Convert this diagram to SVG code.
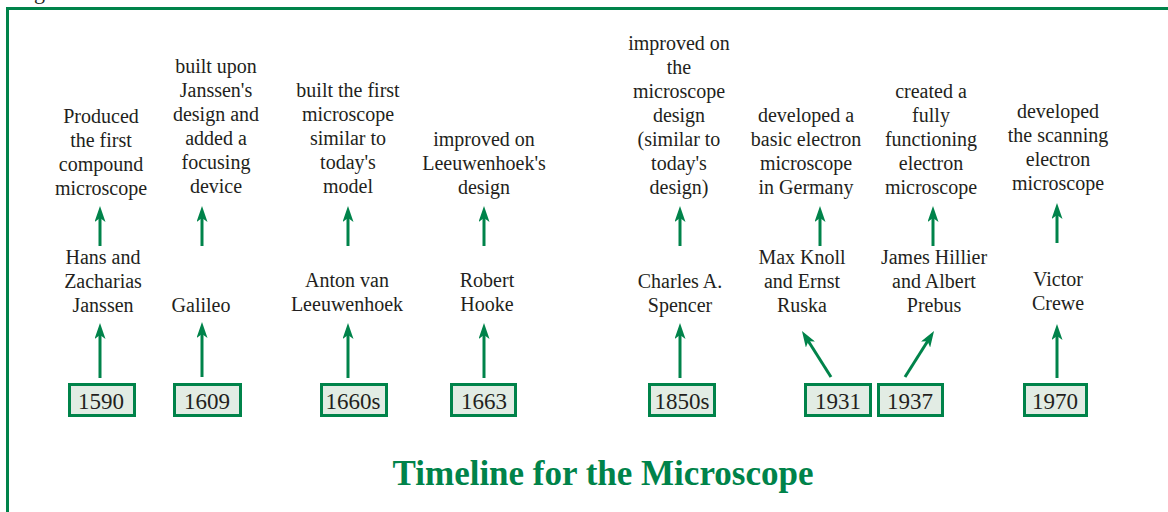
<svg xmlns="http://www.w3.org/2000/svg" width="1168" height="512" viewBox="0 0 1168 512">
  <defs>
    <style>
      .txt { font-family: "Liberation Serif", "Times New Roman", serif; font-size: 20px; fill: #231f20; text-anchor: middle; }
      .year { font-family: "Liberation Serif", "Times New Roman", serif; font-size: 23px; fill: #231f20; text-anchor: middle; }
      .box { fill: #e2ece4; stroke: #00834a; stroke-width: 3; }
      .link { fill: none; stroke: #00834a; stroke-width: 3; marker-end: url(#head); }
      .frame { fill: none; stroke: #00834a; stroke-width: 3; }
      .title { font-family: "Liberation Serif", "Times New Roman", serif; font-size: 35px; font-weight: bold; fill: #00834a; text-anchor: middle; }
    </style>
    <marker id="head" viewBox="0 0 16 11" markerWidth="16" markerHeight="11" refX="6" refY="5.5" markerUnits="userSpaceOnUse" orient="auto">
      <path d="M0,0 L16,5.5 L0,11 L4,5.5 z" fill="#00834a"/>
    </marker>
  </defs>

  <!-- clipped caption above the frame -->
  <text x="34" y="-1" style="font-family: 'Liberation Serif', serif; font-size: 22px; fill: #231f20;">g</text>

  <!-- frame -->
  <path class="frame" d="M7.5,512 V8.5 H1168"/>

  <!-- connectors -->
  <g id="connectors">
    <line class="link" x1="100" y1="246" x2="100" y2="216"/>
    <line class="link" x1="202" y1="246" x2="202" y2="216"/>
    <line class="link" x1="348" y1="246" x2="348" y2="216"/>
    <line class="link" x1="484" y1="246" x2="484" y2="216"/>
    <line class="link" x1="680" y1="246" x2="680" y2="216"/>
    <line class="link" x1="820" y1="246" x2="820" y2="216"/>
    <line class="link" x1="933" y1="246" x2="933" y2="216"/>
    <line class="link" x1="1057" y1="243" x2="1057" y2="213"/>

    <line class="link" x1="100" y1="378" x2="100" y2="333"/>
    <line class="link" x1="202" y1="377" x2="202" y2="332"/>
    <line class="link" x1="348" y1="378" x2="348" y2="333"/>
    <line class="link" x1="484" y1="378" x2="484" y2="333"/>
    <line class="link" x1="680" y1="378" x2="680" y2="333"/>
    <line class="link" x1="831" y1="377" x2="807.3" y2="339.5"/>
    <line class="link" x1="905" y1="377" x2="928.7" y2="339.5"/>
    <line class="link" x1="1057" y1="378" x2="1057" y2="334"/>
  </g>

  <!-- year boxes -->
  <g id="year-1590"><rect class="box" x="69.5" y="384.5" width="65" height="31"/><text class="year" x="101" y="409">1590</text></g>
  <g id="year-1609"><rect class="box" x="174.5" y="384.5" width="66" height="31"/><text class="year" x="207" y="409">1609</text></g>
  <g id="year-1660s"><rect class="box" x="321.5" y="384.5" width="65" height="31"/><text class="year" x="353" y="409">1660s</text></g>
  <g id="year-1663"><rect class="box" x="451.5" y="384.5" width="64" height="31"/><text class="year" x="484" y="409">1663</text></g>
  <g id="year-1850s"><rect class="box" x="649.5" y="384.5" width="65" height="31"/><text class="year" x="682" y="409">1850s</text></g>
  <g id="year-1931"><rect class="box" x="805.5" y="384.5" width="65" height="31"/><text class="year" x="838" y="409">1931</text></g>
  <g id="year-1937"><rect class="box" x="878.5" y="384.5" width="64" height="31"/><text class="year" x="910" y="409">1937</text></g>
  <g id="year-1970"><rect class="box" x="1024.5" y="384.5" width="62" height="31"/><text class="year" x="1055" y="409">1970</text></g>

  <!-- people -->
  <g id="name-janssen"><text class="txt"><tspan x="103" y="264">Hans and</tspan><tspan x="103" y="288">Zacharias</tspan><tspan x="103" y="312">Janssen</tspan></text></g>
  <g id="name-galileo"><text class="txt"><tspan x="201" y="312">Galileo</tspan></text></g>
  <g id="name-leeuwenhoek"><text class="txt"><tspan x="347" y="287">Anton van</tspan><tspan x="347" y="311">Leeuwenhoek</tspan></text></g>
  <g id="name-hooke"><text class="txt"><tspan x="487" y="287">Robert</tspan><tspan x="487" y="311">Hooke</tspan></text></g>
  <g id="name-spencer"><text class="txt"><tspan x="680" y="288">Charles A.</tspan><tspan x="680" y="312">Spencer</tspan></text></g>
  <g id="name-knoll-ruska"><text class="txt"><tspan x="802" y="264">Max Knoll</tspan><tspan x="802" y="288">and Ernst</tspan><tspan x="802" y="312">Ruska</tspan></text></g>
  <g id="name-hillier-prebus"><text class="txt"><tspan x="934" y="264">James Hillier</tspan><tspan x="934" y="288">and Albert</tspan><tspan x="934" y="312">Prebus</tspan></text></g>
  <g id="name-crewe"><text class="txt"><tspan x="1058" y="286">Victor</tspan><tspan x="1058" y="310">Crewe</tspan></text></g>

  <!-- achievements -->
  <g id="note-1590"><text class="txt"><tspan x="101" y="123">Produced</tspan><tspan x="101" y="147">the first</tspan><tspan x="101" y="171">compound</tspan><tspan x="101" y="195">microscope</tspan></text></g>
  <g id="note-1609"><text class="txt"><tspan x="216" y="73">built upon</tspan><tspan x="216" y="97">Janssen's</tspan><tspan x="216" y="121">design and</tspan><tspan x="216" y="145">added a</tspan><tspan x="216" y="169">focusing</tspan><tspan x="216" y="193">device</tspan></text></g>
  <g id="note-1660s"><text class="txt"><tspan x="348" y="97">built the first</tspan><tspan x="348" y="121">microscope</tspan><tspan x="348" y="145">similar to</tspan><tspan x="348" y="169">today's</tspan><tspan x="348" y="193">model</tspan></text></g>
  <g id="note-1663"><text class="txt"><tspan x="484" y="146">improved on</tspan><tspan x="484" y="170">Leeuwenhoek's</tspan><tspan x="484" y="194">design</tspan></text></g>
  <g id="note-1850s"><text class="txt"><tspan x="679" y="50">improved on</tspan><tspan x="679" y="74">the</tspan><tspan x="679" y="98">microscope</tspan><tspan x="679" y="122">design</tspan><tspan x="679" y="146">(similar to</tspan><tspan x="679" y="170">today's</tspan><tspan x="679" y="194">design)</tspan></text></g>
  <g id="note-1931"><text class="txt"><tspan x="806" y="122">developed a</tspan><tspan x="806" y="146">basic electron</tspan><tspan x="806" y="170">microscope</tspan><tspan x="806" y="194">in Germany</tspan></text></g>
  <g id="note-1937"><text class="txt"><tspan x="931" y="98">created a</tspan><tspan x="931" y="122">fully</tspan><tspan x="931" y="146">functioning</tspan><tspan x="931" y="170">electron</tspan><tspan x="931" y="194">microscope</tspan></text></g>
  <g id="note-1970"><text class="txt"><tspan x="1058" y="118">developed</tspan><tspan x="1058" y="142">the scanning</tspan><tspan x="1058" y="166">electron</tspan><tspan x="1058" y="190">microscope</tspan></text></g>

  <!-- title -->
  <text class="title" x="603" y="485">Timeline for the Microscope</text>
</svg>
